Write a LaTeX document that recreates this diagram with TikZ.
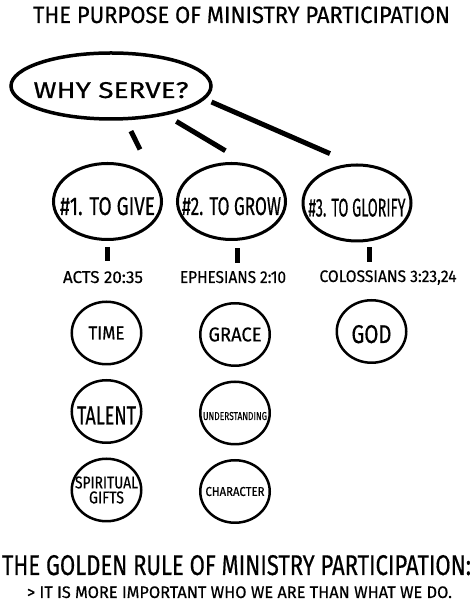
\documentclass[tikz,border=0pt]{standalone}
\usepackage{fontspec}
\setmainfont{Fira Sans}[FakeBold=0.5]
\usepackage{graphicx}
\usetikzlibrary{positioning,shapes}
\begin{document}
\begin{tikzpicture}[x=1pt,y=1pt]

		\def\gap{13.5pt}
		% width/cap height/text, kept out of the ellipse size
		\def\hand#1#2#3{\makebox[0pt]{\resizebox{#1pt}{#2pt}{#3}}}

		\tikzset{line/.style={draw,line width=5pt}}
		\tikzset{oval/.style={draw,shape=ellipse,inner sep=0pt,line width=3pt,minimum width=108pt,minimum height=76pt}}
		\tikzset{bubble/.style={draw,shape=ellipse,inner sep=0pt,line width=2.5pt,minimum width=69.5pt,minimum height=62.5pt}}
		\tikzset{txt/.style={inner sep=0pt,anchor=base}}
		\tikzset{low/.style={text depth=0pt,text height=#1}}

		\useasboundingbox (0,0) rectangle (473,604);

		\node[txt] (title) at (241.5,581) {\hand{417}{16.5}{THE PURPOSE OF MINISTRY PARTICIPATION}};

		\node[oval,line width=3.5pt,minimum width=200pt,minimum height=66pt,low=24pt] (why) at (111,518) {\hand{155}{16}{WHY SERVE?}};

		\node[oval,low=27pt] (give) at (107.5,402.5) {\hand{95}{18}{\#1. TO GIVE}};
		\node[oval,low=27pt] (grow) at (231.5,402.5) {\hand{99}{18}{\#2. TO GROW}};
		\node[oval,low=27pt] (glory) at (357,401) {\hand{97}{18}{\#3. TO GLORIFY}};

		\node[txt] (acts) at (103,321) {\hand{80}{12}{ACTS 20:35}};
		\node[txt] (eph) at (233,321) {\hand{106}{12}{EPHESIANS 2:10}};
		\node[txt] (col) at (388,322) {\hand{137}{11.7}{COLOSSIANS 3:23,24}};

		% first column
		\node[bubble] (time) at (106.5,271) {\hand{36}{13}{TIME}};
		\node[bubble, below=\gap of time, low=26pt] (talent) {\hand{59}{18}{TALENT}};
		\node[bubble, below=\gap of talent, align=center, font=\fontsize{10}{15}\selectfont] (gifts) {\hand{63}{12}{SPIRITUAL}\\\hand{35}{12}{GIFTS}};

		% second column
		\node[bubble] (grace) at (235,269.5) {\hand{53}{14}{GRACE}};
		\node[bubble, below=\gap of grace, low=14pt] (underst) {\hand{64}{8}{UNDERSTANDING}};
		\node[bubble, below=\gap of underst] (charac) {\hand{59}{9}{CHARACTER}};

		\node[bubble, low=23pt] (god) at (371.5,272.5) {\hand{40}{18}{GOD}};

		\path[line,shorten <=12pt,shorten >=38pt] (why.-67) to (give.20);
		\path[line,shorten <=12pt,shorten >=25pt] (why.-28) to (grow.68);
		\path[line,shorten <=7pt,shorten >=25pt] (why.-8) to (glory.96);

		\path[line,shorten <=6pt,shorten >=10pt] (give.south) to (give.south |- acts.north);
		\path[line,shorten <=7.5pt,shorten >=8pt] (grow.-82) to (grow.-82 |- eph.north);
		\path[line,shorten <=6pt,shorten >=8pt] (glory.-72) to (glory.-72 |- col.north);

		\node[txt] (rule) at (236.5,29) {\hand{469}{20}{THE GOLDEN RULE OF MINISTRY PARTICIPATION:}};
		\node[txt] (who) at (239.5,6) {\hand{425}{11.7}{> IT IS MORE IMPORTANT WHO WE ARE THAN WHAT WE DO.}};

	\end{tikzpicture}
\end{document}
